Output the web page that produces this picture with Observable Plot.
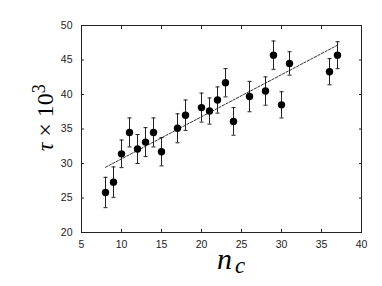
<!DOCTYPE html>
<html><head><meta charset="utf-8">
<script src="https://cdn.jsdelivr.net/npm/d3@7"></script>
<script src="https://cdn.jsdelivr.net/npm/@observablehq/plot@0.6"></script>
<style>body{margin:0;background:#fff}</style>
</head><body><div id="chart"></div>
<script>
const nc   = [8, 9, 10, 11, 12, 13, 14, 15, 17, 18, 20, 21, 22, 23, 24, 26, 28, 29, 30, 31, 36, 37];
const tau  = [25.8, 27.3, 31.4, 34.5, 32.1, 33.1, 34.5, 31.7, 35.1, 37.0, 38.1, 37.6, 39.2, 41.7, 36.1, 39.7, 40.5, 45.7, 38.5, 44.5, 43.3, 45.7];
const err  = [2.2, 2.2, 2.0, 2.1, 2.1, 2.1, 2.1, 2.05, 2.1, 2.2, 2.1, 1.9, 1.9, 2.05, 2.0, 2.2, 2.05, 2.05, 1.9, 1.7, 1.9, 1.95];
const fitX = [8, 37];
const fitY = [29.45, 47.15];
const xTicks = [5, 10, 15, 20, 25, 30, 35, 40];
const yTicks = [20, 25, 30, 35, 40, 45, 50];

const pts = nc.map((x, i) => ({x, y: tau[i], lo: tau[i] - err[i], hi: tau[i] + err[i]}));
const fit = fitX.map((x, i) => ({x, y: fitY[i]}));

const cap = {draw(ctx, size) { const r = Math.sqrt(size / Math.PI); ctx.moveTo(-r, 0); ctx.lineTo(r, 0); }};
const tickFont = {fontSize: 10.5, fontFamily: "Liberation Sans, Arial, sans-serif"};
const serif = "Liberation Serif, DejaVu Serif, serif";

const chart = Plot.plot({
  width: 382, height: 286,
  marginLeft: 81, marginRight: 21, marginTop: 25, marginBottom: 54,
  style: {background: "#fff", color: "#222", ...tickFont},
  x: {domain: [5, 40]},
  y: {domain: [20, 50]},
  marks: [
    Plot.axisX({anchor: "bottom", ticks: xTicks, tickSize: -3, tickPadding: 11, label: null, ...tickFont}),
    Plot.axisX({anchor: "top", ticks: xTicks, tickSize: -3, tickFormat: () => "", label: null}),
    Plot.axisY({anchor: "left", ticks: yTicks, tickSize: -3, tickPadding: 12, label: null, ...tickFont}),
    Plot.axisY({anchor: "right", ticks: yTicks, tickSize: -3, tickFormat: () => "", label: null}),
    Plot.frame({stroke: "#222"}),
    Plot.line(fit, {x: "x", y: "y", stroke: "#333", strokeWidth: 1, strokeDasharray: "2.5,1.5"}),
    Plot.ruleX(pts, {x: "x", y1: "lo", y2: "hi", stroke: "#222", strokeWidth: 1}),
    Plot.dot(pts, {x: "x", y: "lo", symbol: cap, r: 2, stroke: "#222", strokeWidth: 1, fill: "none"}),
    Plot.dot(pts, {x: "x", y: "hi", symbol: cap, r: 2, stroke: "#222", strokeWidth: 1, fill: "none"}),
    Plot.dot(pts, {x: "x", y: "y", r: 3.7, fill: "#000", stroke: "none"}),
    Plot.text(["n"], {frameAnchor: "bottom", lineAnchor: "bottom", textAnchor: "middle", dx: 3, dy: 36, fontSize: 30, fontStyle: "italic", fontFamily: serif, fill: "#000"}),
    Plot.text(["c"], {frameAnchor: "bottom", lineAnchor: "bottom", textAnchor: "middle", dx: 18.5, dy: 40, fontSize: 23, fontStyle: "italic", fontFamily: serif, fill: "#000"}),
    Plot.text(["τ × 10³"], {frameAnchor: "left", lineAnchor: "bottom", textAnchor: "middle", rotate: -90, dx: -28.3, dy: -11.2, fontSize: 24, fontFamily: serif, fill: "#000"})
  ]
});
d3.select(chart).selectAll("text").each(function() {
  if (this.textContent === "τ × 10³") {
    const t = d3.select(this);
    t.text("");
    t.append("tspan").attr("font-style", "italic").text("τ");
    t.append("tspan").text("\u00a0×\u00a010");
    t.append("tspan").attr("font-size", "18").attr("dy", "-0.43em").text("3");
  }
});
document.getElementById("chart").appendChild(chart);
</script>
</body></html>
